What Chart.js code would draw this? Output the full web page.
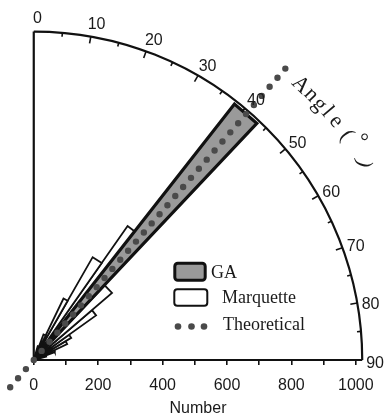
<!DOCTYPE html>
<html>
<head>
<meta charset="utf-8">
<script src="https://cdn.jsdelivr.net/npm/chart.js@4.4.1/dist/chart.umd.min.js"></script>
<style>
  html, body { margin: 0; padding: 0; background: #fff; }
</style>
</head>
<body>
<canvas id="rose" width="388" height="417"></canvas>
<script>
// angles in degrees, clockwise from the vertical axis; counts along the radius
const gaAngles = [38.1, 43.3]
const gaCount = 1010

const marqStart = [15.8, 20.8, 25.8, 29.8, 35.0, 43.5, 49.4, 54.4, 59.4, 64.4, 69.4]
const marqEnd = [20.8, 25.8, 29.8, 35.0, 39.6, 49.4, 54.4, 59.4, 64.4, 69.4, 74.4]
const marqCount = [45, 85, 212, 368, 508, 320, 238, 135, 115, 70, 40]

const theoryAngle = 40.8
const theoryRange = [-112, 1196]

const angleTicks = [0, 10, 20, 30, 40, 50, 60, 70, 80, 90]
const numberTicks = [0, 100, 200, 300, 400, 500, 600, 700, 800, 900, 1000]
const numberLabels = [0, 200, 400, 600, 800, 1000]
const legendLabels = ["GA", "Marquette", "Theoretical"]
const angleTitle = "Angle(°)"

// layout bits
const ARC_R = 1020
const LABEL_R = 1060
const titleCharAngle = [44.1, 46.3, 48.2, 49.8, 51.7, 54.3, 56.0, 59.2]
const titleCharR = [1190, 1192, 1190, 1194, 1196, 1196, 1222, 1192]
const INK = "#111"

const polar = (r, deg) => {
    const a = deg * Math.PI / 180
    return {x: r * Math.sin(a), y: r * Math.cos(a)}
}
const wedge = (a0, a1, r) => [{x: 0, y: 0}, polar(r, a0), polar(r, a1), {x: 0, y: 0}]

const datasets = []

datasets.push({
    label: "Theoretical",
    data: [polar(theoryRange[0], theoryAngle), polar(theoryRange[1], theoryAngle)],
    showLine: true,
    borderColor: "#4a4a4a",
    borderWidth: 6.4,
    borderDash: [0, 12.03],
    borderCapStyle: "round",
    pointRadius: 0,
    fill: false,
    clip: false,
    order: 0
})

datasets.push({
    label: "GA",
    data: wedge(gaAngles[0], gaAngles[1], gaCount),
    showLine: true,
    borderColor: INK,
    backgroundColor: "#9a9a9a",
    borderWidth: 3.2,
    borderJoinStyle: "miter",
    pointRadius: 0,
    fill: "shape",
    order: 1
})

marqCount.forEach((n, i) => {
    datasets.push({
        label: "Marquette",
        data: wedge(marqStart[i], marqEnd[i], n),
        showLine: true,
        borderColor: INK,
        backgroundColor: "#fff",
        borderWidth: 1.8,
        borderJoinStyle: "miter",
        pointRadius: 0,
        fill: "shape",
        order: 2 + i
    })
})

const toPx = (chart, p) => [chart.scales.x.getPixelForValue(p.x), chart.scales.y.getPixelForValue(p.y)]

// quarter-circle frame, angle ticks and labels
const polarFrame = {
    id: "polarFrame",
    beforeDatasetsDraw(chart) {
        const ctx = chart.ctx
        const [ox, oy] = toPx(chart, {x: 0, y: 0})
        const R = chart.scales.x.getPixelForValue(ARC_R) - ox
        ctx.save()
        ctx.strokeStyle = INK
        ctx.lineWidth = 2.2
        ctx.beginPath()
        ctx.moveTo(ox, oy - R)
        ctx.lineTo(ox, oy)
        ctx.lineTo(ox + R, oy)
        ctx.stroke()
        ctx.beginPath()
        ctx.arc(ox, oy, R, -Math.PI / 2, 0)
        ctx.stroke()
        ctx.lineWidth = 1.6
        for (let a = 5; a < 90; a += 5) {
            const len = a % 10 === 0 ? 7 : 4
            const t = a * Math.PI / 180
            ctx.beginPath()
            ctx.moveTo(ox + R * Math.sin(t), oy - R * Math.cos(t))
            ctx.lineTo(ox + (R - len) * Math.sin(t), oy - (R - len) * Math.cos(t))
            ctx.stroke()
        }
        ctx.restore()
    },
    afterDraw(chart) {
        const ctx = chart.ctx
        ctx.save()
        ctx.fillStyle = "#1a1a1a"
        ctx.font = "16px 'Liberation Sans', Arial, sans-serif"
        ctx.textAlign = "center"
        ctx.textBaseline = "middle"
        angleTicks.forEach(a => {
            const [x, y] = toPx(chart, polar(LABEL_R, a + 0.6))
            ctx.fillText(String(a), x, y)
        })

        ctx.font = "22px 'Liberation Serif', 'Times New Roman', serif"
        Array.from(angleTitle).forEach((ch, i) => {
            const [x, y] = toPx(chart, polar(titleCharR[i], titleCharAngle[i]))
            let rot = titleCharAngle[i]
            if (ch === ")") rot += 45
            ctx.save()
            ctx.translate(x, y)
            ctx.rotate(rot * Math.PI / 180)
            ctx.fillText(ch, 0, 0)
            ctx.restore()
        })

        // legend
        ctx.strokeStyle = INK
        ctx.lineWidth = 3
        ctx.fillStyle = "#9a9a9a"
        ctx.beginPath()
        ctx.roundRect(174.8, 263.2, 30.4, 17, 3)
        ctx.fill()
        ctx.stroke()
        ctx.lineWidth = 2
        ctx.fillStyle = "#fff"
        ctx.beginPath()
        ctx.roundRect(174.3, 289.3, 33, 16.4, 3)
        ctx.fill()
        ctx.stroke()
        ctx.fillStyle = "#4a4a4a"
        ;[178, 191.5, 204].forEach(x => {
            ctx.beginPath()
            ctx.arc(x, 326.5, 3.3, 0, Math.PI * 2)
            ctx.fill()
        })
        ctx.fillStyle = "#1a1a1a"
        ctx.font = "18px 'Liberation Serif', 'Times New Roman', serif"
        ctx.textAlign = "left"
        ctx.fillText(legendLabels[0], 211, 273)
        ctx.fillText(legendLabels[1], 222, 298.5)
        ctx.fillText(legendLabels[2], 223, 325)
        ctx.restore()
    }
}

const ctx = document.getElementById("rose").getContext("2d")
const roseChart = new Chart(ctx, {
    type: "scatter",
    data: {datasets: datasets},
    options: {
        responsive: false,
        animation: false,
        layout: {padding: {left: 8, right: 0, top: 5, bottom: 0}},
        plugins: {
            legend: {display: false},
            tooltip: {enabled: false}
        },
        scales: {
            x: {
                type: "linear",
                min: -80,
                max: 1100,
                afterBuildTicks: s => { s.ticks = numberTicks.map(v => ({value: v})) },
                afterFit: s => { s.height = 57 },
                grid: {drawOnChartArea: false, drawTicks: true, tickLength: 5, color: INK, lineWidth: 1.6},
                border: {display: false},
                ticks: {
                    autoSkip: false,
                    maxRotation: 0,
                    padding: 11,
                    color: "#1a1a1a",
                    font: {family: "'Liberation Sans', Arial, sans-serif", size: 16},
                    callback: v => numberLabels.includes(v) ? String(v) : ""
                },
                title: {
                    display: true,
                    text: "Number",
                    color: "#1a1a1a",
                    font: {family: "'Liberation Sans', Arial, sans-serif", size: 16, lineHeight: 1.05},
                    padding: {top: 0, bottom: 0}
                }
            },
            y: {type: "linear", min: 0, max: 1102.5, display: false}
        }
    },
    plugins: [polarFrame]
})
</script>
</body>
</html>
